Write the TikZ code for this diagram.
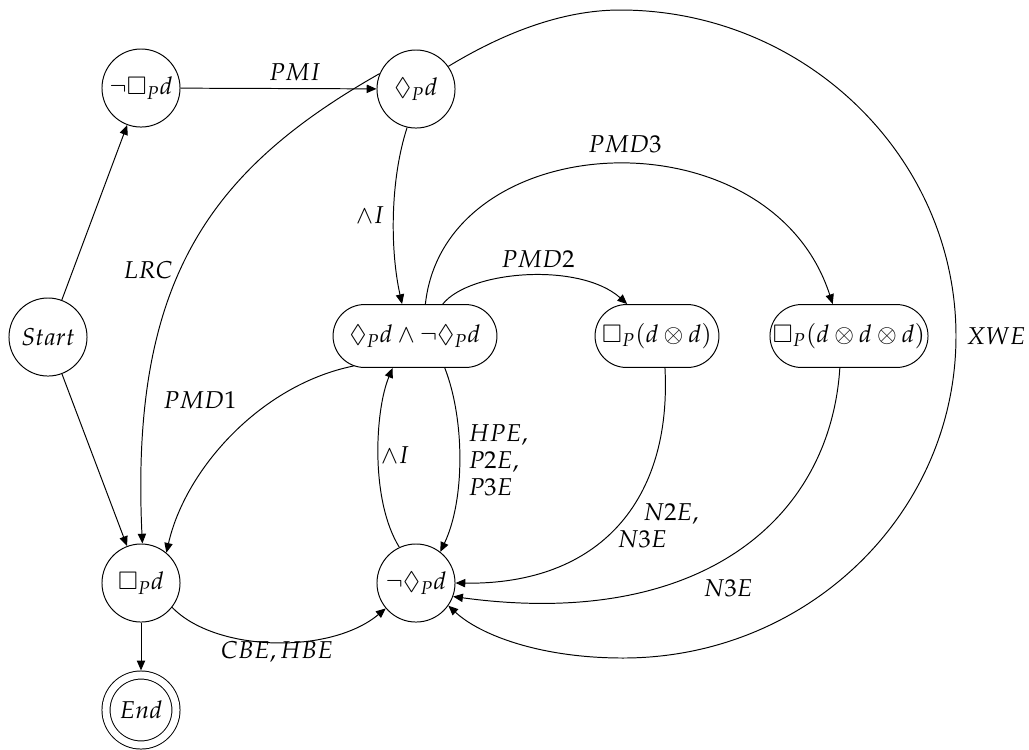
\documentclass[tikz,border=0pt]{standalone}
\usepackage{amssymb}
\usepackage{mathpazo}
\usetikzlibrary{arrows.meta,shapes.misc}
\begin{document}
\begin{tikzpicture}[x=0.41pt,y=-0.41pt,
  every node/.style={font=\fontsize{10}{11}\selectfont},
  state/.style={draw, circle, minimum size=32pt, inner sep=0pt, line width=0.4pt},
  final/.style={state, double, double distance=2.9pt, minimum size=28.7pt, outer sep=1.9pt},
  box/.style={draw, rounded rectangle, minimum height=25.8pt, inner sep=0pt, line width=0.4pt},
  edge/.style={draw, line width=0.4pt, -{Triangle[length=4pt,width=3.4pt]}},
  lbl/.style={inner sep=0pt}]
\useasboundingbox (0,0) rectangle (1029,749);
% states
\node[state] (start) at (48,337) {$Start$};
\node[state] (nb) at (141,88) {$\neg\Box_P d$};
\node[state] (dp) at (416,89) {$\Diamond_P d$};
\node[box, minimum width=67.2pt] (conj) at (415,336) {$\Diamond_P d \wedge \neg\Diamond_P d$};
\node[box, minimum width=50.8pt] (b2) at (657,336) {$\Box_P(d\otimes d)$};
\node[box, minimum width=64.8pt] (b3) at (849,336) {$\Box_P(d\otimes d\otimes d)$};
\node[state] (bp) at (141,583) {$\Box_P d$};
\node[state] (nd) at (416,583) {$\neg\Diamond_P d$};
\node[final] (end) at (141,710) {$End$};
% edges
\draw[edge] (start) -- (nb);
\draw[edge] (start) -- (bp);
\draw[edge] (nb) -- (dp);
\draw[edge] (bp) -- (end);
\draw[edge] (dp.257) .. controls (390,180) and (390,250) .. (conj.112);
\draw[edge] (dp.157) .. controls (210,170) and (130,280) .. (bp.88);
\draw[edge] (conj.-154) .. controls (260,385) and (185,470) .. (bp.50);
\draw[edge] (conj.49) .. controls (470,270) and (580,262) .. (b2.133);
\draw[edge] (conj.72) .. controls (445,125) and (770,110) .. (b3.117);
\draw[edge] (conj.-47) .. controls (465,420) and (465,500) .. (nd.52);
\draw[edge] (nd.115) .. controls (370,500) and (375,410) .. (conj.-125);
\draw[edge] (b2.-76) .. controls (672,500) and (600,585) .. (nd.0);
\draw[edge] (b3.-106) .. controls (830,520) and (700,630) .. (nd.-20);
\draw[edge] (dp.35) .. controls (500,35) and (560,10) .. (620,10)
  .. controls (805,10) and (956,157) .. (956,336)
  .. controls (956,514) and (807,658) .. (623,658)
  .. controls (540,658) and (480,635) .. (nd.-35);
\draw[edge] (bp.-38) .. controls (215,652) and (330,655) .. (nd.-140);
% labels
\node[lbl] (lPMI) at (295,72) {$PMI$};
\node[lbl] (lLRC) at (148,270) {$LRC$};
\node[lbl] (lI1) at (370,215) {$\wedge I$};
\node[lbl] (lPMD1) at (200,400) {$PMD1$};
\node[lbl] (lPMD2) at (538,259) {$PMD2$};
\node[lbl] (lPMD3) at (625,144) {$PMD3$};
\node[lbl, anchor=west, align=left] (lHPE) at (468,460) {$HPE,$\\$P2E,$\\$P3E$};
\node[lbl] (lI2) at (395,455) {$\wedge I$};
\node[lbl, anchor=west, align=left] (lN2E) at (617,526) {\hspace*{10.5pt}$N2E,$\\$N3E$};
\node[lbl] (lN3E) at (728,588) {$N3E$};
\node[lbl] (lXWE) at (996,336) {$XWE$};
\node[lbl] (lCBE) at (277,652) {$CBE, HBE$};
\end{tikzpicture}
\end{document}
